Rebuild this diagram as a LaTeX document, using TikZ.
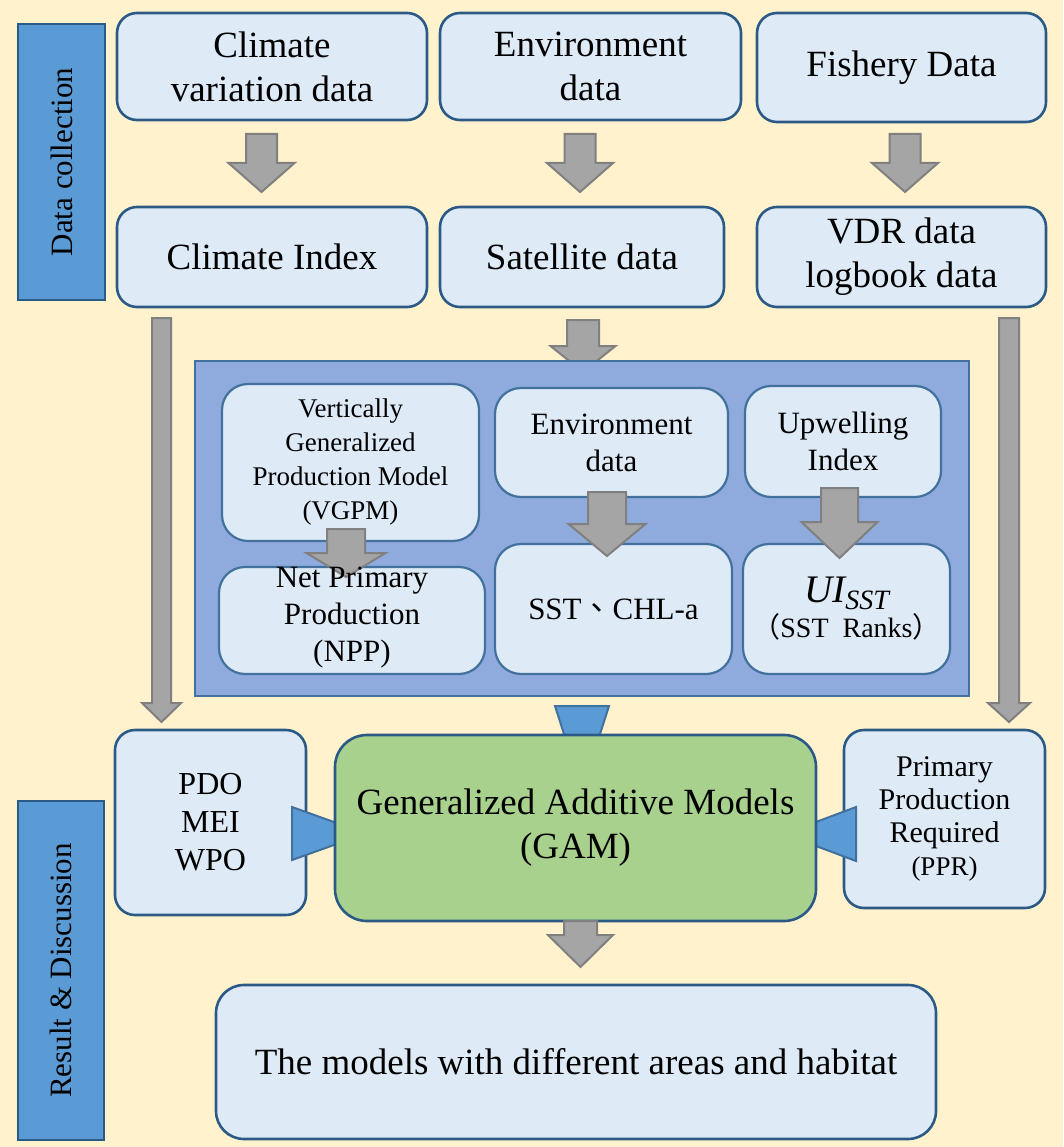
\documentclass[tikz,border=0pt]{standalone}
\usepackage{fontspec}
\setmainfont{Liberation Serif}
\newfontfamily\cjk{Noto Sans CJK TC}
\definecolor{bg}{HTML}{FFF2CC}
\definecolor{boxfill}{HTML}{DEEBF7}
\definecolor{boxline}{HTML}{2C5A87}
\definecolor{innerline}{HTML}{41719C}
\definecolor{panelfill}{HTML}{8FAADC}
\definecolor{barfill}{HTML}{5B9BD5}
\definecolor{gamfill}{HTML}{A9D18E}
\definecolor{grayfill}{HTML}{A5A5A5}
\definecolor{grayline}{HTML}{808080}
\newcommand\blockarr[7][]{%
  \draw[#1] (#2-#4,#3) -- (#2+#4,#3) -- (#2+#4,#6) -- (#2+#5,#6) -- (#2,#7) -- (#2-#5,#6) -- (#2-#4,#6) -- cycle;}
\begin{document}
\begin{tikzpicture}[x=1pt,y=-1pt,
  box/.style={draw=boxline, line width=2.6pt, fill=boxfill, rounded corners=20pt,
    align=center, inner sep=0pt, outer sep=0pt},
  inbox/.style={box, draw=innerline, line width=2.2pt, rounded corners=26pt},
  bigtxt/.style={font=\fontsize{37}{44}\selectfont},
  midtxt/.style={font=\fontsize{31}{37}\selectfont},
  smalltxt/.style={font=\fontsize{27}{34}\selectfont},
  sidebar/.style={draw=boxline, line width=2.4pt, fill=barfill, inner sep=0pt, outer sep=0pt},
  garrow/.style={draw=grayline, line width=2pt, fill=grayfill, line join=miter},
  barrow/.style={draw=innerline, line width=2pt, fill=barfill, line join=miter}]
\fill[bg] (0,0) rectangle (1063,1147);
\useasboundingbox (0,0) rectangle (1063,1147);

% side bars
\node[sidebar, minimum width=87pt, minimum height=276pt] (dcbar) at (61.5,162) {};
\node[rotate=90, font=\fontsize{31}{34}\selectfont] (dclab) at (dcbar.center) {Data collection};
\node[sidebar, minimum width=86pt, minimum height=339pt] (rdbar) at (61,970.5) {};
\node[rotate=90, font=\fontsize{31}{34}\selectfont] (rdlab) at (rdbar.center) {Result \& Discussion};

% top row
\node[box, bigtxt, minimum width=310pt, minimum height=107pt] (clim) at (272,66.5) {Climate\\variation data};
\node[box, bigtxt, minimum width=301pt, minimum height=107pt] (env) at (590.5,66.5) {Environment\\data};
\node[box, bigtxt, minimum width=289pt, minimum height=109pt] (fish) at (901.5,67.5) {Fishery Data};

% second row
\node[box, bigtxt, minimum width=310pt, minimum height=100pt] (cidx) at (272,257) {Climate Index};
\node[box, bigtxt, minimum width=284pt, minimum height=100pt] (sat) at (582,257) {Satellite data};
\node[box, bigtxt, minimum width=289pt, minimum height=100pt] (vdr) at (901.5,257) {VDR data\\logbook data};

% arrows row 1 -> row 2
\blockarr[garrow]{261.5}{134}{15.5}{33}{163}{192}
\blockarr[garrow]{580}{134}{15.5}{33}{163}{192}
\blockarr[garrow]{905}{134}{15.5}{33}{163}{192}

% long thin arrows
\blockarr[garrow]{161.5}{318}{9.5}{19.5}{703}{722}
\blockarr[garrow]{1009}{318}{10}{21}{703}{722}

% satellite -> panel
\blockarr[garrow]{583}{320}{16}{32.5}{346}{372}

% panel
\node[draw=innerline, line width=2.4pt, fill=panelfill, minimum width=774pt, minimum height=335pt, inner sep=0pt] (panel) at (582,528.5) {};

\node[inbox, smalltxt, minimum width=257pt, minimum height=157pt] (vgpm) at (350.5,462.5) {Vertically\\Generalized\\Production Model\\(VGPM)};
\node[inbox, midtxt, minimum width=233pt, minimum height=109pt] (envd) at (611.5,442.5) {Environment\\data};
\node[inbox, midtxt, minimum width=196pt, minimum height=111pt] (upw) at (843,441.5) {Upwelling\\Index};
\node[inbox, minimum width=266pt, minimum height=107pt] (npp) at (352,620.5) {};
\node[inbox, midtxt, minimum width=237pt, minimum height=130pt] (sst) at (613.5,609) {SST{\cjk 、}CHL-a};
\node[inbox, midtxt, minimum width=207pt, minimum height=130pt] (ui) at (846.5,609)
  {{\fontsize{39}{40}\selectfont\itshape UI}{\fontsize{28}{28}\selectfont\itshape\raisebox{-7pt}{SST}}\\[-2pt]
   {\fontsize{28}{30}\selectfont{\cjk （}SST\ \ Ranks{\cjk ）}}};

% inner arrows
\blockarr[garrow]{346}{529}{19}{39.5}{553}{577}
\blockarr[garrow]{607}{492}{19}{38.5}{524}{556}
\blockarr[garrow]{839.5}{488}{18.5}{38}{522}{558}
\node[midtxt, align=center, inner sep=0pt] (npptxt) at ([yshift=3pt]npp.center) {Net Primary\\Production\\(NPP)};

% bottom row
\node[box, font=\fontsize{32}{38}\selectfont, minimum width=191pt, minimum height=185pt] (pdo) at (210.5,822.5) {PDO\\MEI\\WPO};
\node[box, font=\fontsize{30}{33}\selectfont, minimum width=201pt, minimum height=178pt] (ppr) at (944.5,819) {Primary\\Production\\Required\\{\fontsize{27}{33}\selectfont(PPR)}};

% blue triangles
\draw[barrow] (555,706) -- (609,706) -- (582,790) -- cycle;
\draw[barrow] (292,807) -- (292,860) -- (366,833.5) -- cycle;
\draw[barrow] (856,807) -- (856,861) -- (784,834) -- cycle;

\node[box, fill=gamfill, bigtxt, rounded corners=32pt, minimum width=481pt, minimum height=186pt] (gam) at (575.5,828) {Generalized Additive Models\\(GAM)};

\blockarr[garrow]{580.5}{921}{16.5}{32.5}{935}{967}

\node[box, bigtxt, rounded corners=28pt, minimum width=720pt, minimum height=154pt] (res) at (576,1062) {The models with different areas and habitat};
\end{tikzpicture}
\end{document}
